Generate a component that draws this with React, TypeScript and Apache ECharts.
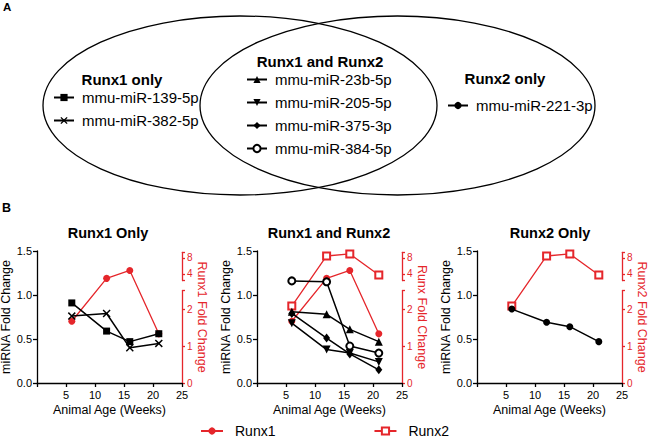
import React, { useEffect, useRef } from 'react';
import * as echarts from 'echarts';

// ---------- data ----------
const weeks = [6, 12, 16, 21];
const mir139 = [0.91, 0.59, 0.47, 0.56];
const mir382 = [0.76, 0.79, 0.40, 0.45];
const mir23b = [0.81, 0.78, 0.61, 0.47];
const mir205 = [0.68, 0.38, 0.34, 0.24];
const mir375 = [0.79, 0.51, 0.33, 0.15];
const mir384 = [1.16, 1.15, 0.42, 0.34];
const mir221 = [0.84, 0.69, 0.64, 0.47];
const runx1 = [1.67, 3.3, 4.65, 1.33];
const runx2 = [2.08, 8.7, 9.5, 3.83];

const xTicks = [5, 10, 15, 20, 25];
const yTicks = [0, 0.5, 1.0, 1.5];
const redLowTicks = [0, 1, 2];
const redHighTicks = [4, 8];

const vennLeft = ['mmu-miR-139-5p', 'mmu-miR-382-5p'];
const vennMid = ['mmu-miR-23b-5p', 'mmu-miR-205-5p', 'mmu-miR-375-3p', 'mmu-miR-384-5p'];
const vennRight = ['mmu-miR-221-3p'];

// ---------- style / layout ----------
const FONT = "'Liberation Sans', Arial, Helvetica, sans-serif";
const RED = '#e5262b';
const BLACK = '#000';
const PANEL_LEFT = [37, 257, 477];
const PW = 145;
const PT = 251;
const PH = 132;

// segmented right axis: lower linear segment, upper log2 segment
const LOW_MAX = 2.5;
const LOW_FRAC = 0.70;
const HIGH_MIN = 3;
const HIGH_MAX = 10.2;
const HIGH_FROM = 0.776;
const HIGH_TO = 0.99;
const lg = (v: number) => Math.log(v) / Math.LN2;
function toU(v: number) {
  if (v <= LOW_MAX) return (v / LOW_MAX) * LOW_FRAC;
  return HIGH_FROM + ((lg(v) - lg(HIGH_MIN)) / (lg(HIGH_MAX) - lg(HIGH_MIN))) * (HIGH_TO - HIGH_FROM);
}

const SYM_X = 'path://M0,1.3L1.3,0L5,3.7L8.7,0L10,1.3L6.3,5L10,8.7L8.7,10L5,6.3L1.3,10L0,8.7L3.7,5Z';
const SYM_TRI_DOWN = 'path://M0,0L10,0L5,9Z';

type Blk = { name: string; vals: number[]; symbol: string; size?: any };
type Rd = { name: string; vals: number[]; symbol: string };
const panels: { title: string; redName: string; black: Blk[]; red: Rd[] }[] = [
  {
    title: 'Runx1 Only',
    redName: 'Runx1 Fold Change',
    black: [
      { name: 'mmu-miR-139-5p', vals: mir139, symbol: 'rect' },
      { name: 'mmu-miR-382-5p', vals: mir382, symbol: SYM_X, size: 8 },
    ],
    red: [{ name: 'Runx1', vals: runx1, symbol: 'circle' }],
  },
  {
    title: 'Runx1 and Runx2',
    redName: 'Runx Fold Change',
    black: [
      { name: 'mmu-miR-23b-5p', vals: mir23b, symbol: 'triangle', size: 8 },
      { name: 'mmu-miR-205-5p', vals: mir205, symbol: SYM_TRI_DOWN, size: 8 },
      { name: 'mmu-miR-375-3p', vals: mir375, symbol: 'diamond', size: [7, 9] },
      { name: 'mmu-miR-384-5p', vals: mir384, symbol: 'emptyCircle' },
    ],
    red: [
      { name: 'Runx1', vals: runx1, symbol: 'circle' },
      { name: 'Runx2', vals: runx2, symbol: 'emptyRect' },
    ],
  },
  {
    title: 'Runx2 Only',
    redName: 'Runx2 Fold Change',
    black: [{ name: 'mmu-miR-221-3p', vals: mir221, symbol: 'circle' }],
    red: [{ name: 'Runx2', vals: runx2, symbol: 'emptyRect' }],
  },
];

function buildOption() {
  const grid: any[] = [];
  const xAxis: any[] = [];
  const yAxis: any[] = [];
  const series: any[] = [];
  const graphic: any[] = [];

  const axisLineBlack = { show: true, onZero: false, lineStyle: { color: BLACK, width: 1.3 } };
  const axisLineRed = { show: true, onZero: false, lineStyle: { color: RED, width: 1.3 } };

  panels.forEach((p, i) => {
    const L = PANEL_LEFT[i];
    const g0 = 3 * i;
    grid.push({ left: L, top: PT, width: PW, height: PH, outerBoundsMode: 'none' });
    grid.push({ left: L, top: PT + PH * (1 - LOW_FRAC), width: PW, height: PH * LOW_FRAC, outerBoundsMode: 'none' });
    grid.push({ left: L, top: PT + PH * (1 - HIGH_TO), width: PW, height: PH * (HIGH_TO - HIGH_FROM), outerBoundsMode: 'none' });

    xAxis.push({
      gridIndex: g0, type: 'value', min: 0, max: 25, interval: 5,
      axisLine: axisLineBlack,
      axisTick: { show: true, length: 4, customValues: [0, ...xTicks], lineStyle: { color: BLACK, width: 1.3 } },
      axisLabel: { customValues: xTicks, fontSize: 11, color: BLACK, fontFamily: FONT, margin: 6 },
      splitLine: { show: false },
      name: 'Animal Age (Weeks)', nameLocation: 'middle', nameGap: 20,
      nameTextStyle: { fontSize: 12.5, color: BLACK, fontFamily: FONT },
    });
    xAxis.push({ gridIndex: g0 + 1, type: 'value', min: 0, max: 1, show: false });
    xAxis.push({ gridIndex: g0 + 2, type: 'value', min: 0, max: 1, show: false });

    yAxis.push({
      gridIndex: g0, type: 'value', min: 0, max: 1.5, interval: 0.5, position: 'left',
      axisLine: axisLineBlack,
      axisTick: { show: true, length: 4, customValues: yTicks, lineStyle: { color: BLACK, width: 1.3 } },
      axisLabel: { customValues: yTicks, fontSize: 11, color: BLACK, fontFamily: FONT, margin: 5, formatter: (v: number) => v.toFixed(1) },
      splitLine: { show: false },
      name: 'miRNA Fold Change', nameLocation: 'middle', nameGap: 23,
      nameTextStyle: { fontSize: 12.5, color: BLACK, fontFamily: FONT },
    });
    yAxis.push({
      gridIndex: g0, type: 'value', min: 0, max: 1, position: 'right',
      axisLine: { show: false }, axisTick: { show: false }, axisLabel: { show: false }, splitLine: { show: false },
      name: p.redName, nameLocation: 'middle', nameRotate: -90, nameGap: 13,
      nameTextStyle: { fontSize: 12.5, color: RED, fontFamily: FONT },
    });
    yAxis.push({
      gridIndex: g0 + 1, type: 'value', min: 0, max: LOW_MAX, position: 'right',
      axisLine: axisLineRed,
      axisTick: { show: true, length: 3, customValues: [...redLowTicks, LOW_MAX], lineStyle: { color: RED, width: 1.3 } },
      axisLabel: { customValues: redLowTicks, fontSize: 10, color: RED, fontFamily: FONT, margin: 5 },
      splitLine: { show: false },
    });
    yAxis.push({
      gridIndex: g0 + 2, type: 'value', min: lg(HIGH_MIN), max: lg(HIGH_MAX), position: 'right',
      axisLine: axisLineRed,
      axisTick: { show: true, length: 3, customValues: [lg(HIGH_MIN), ...redHighTicks.map(lg), lg(HIGH_MAX)], lineStyle: { color: RED, width: 1.3 } },
      axisLabel: { customValues: redHighTicks.map(lg), fontSize: 10, color: RED, fontFamily: FONT, margin: 5, formatter: (v: number) => String(Math.round(Math.pow(2, v))) },
      splitLine: { show: false },
    });

    p.red.forEach((r) => {
      const empty = r.symbol.indexOf('empty') === 0;
      series.push({
        type: 'line', name: r.name, xAxisIndex: g0, yAxisIndex: 4 * i + 1,
        data: weeks.map((w, k) => [w, toU(r.vals[k])]),
        symbol: r.symbol, symbolSize: 7,
        lineStyle: { color: RED, width: 1.3 },
        itemStyle: empty ? { color: RED, borderColor: RED, borderWidth: 1.3 } : { color: RED },
        z: 2, silent: true,
      });
    });
    p.black.forEach((b) => {
      const empty = b.symbol.indexOf('empty') === 0;
      series.push({
        type: 'line', name: b.name, xAxisIndex: g0, yAxisIndex: 4 * i,
        data: weeks.map((w, k) => [w, b.vals[k]]),
        symbol: b.symbol, symbolSize: b.size || 7,
        lineStyle: { color: BLACK, width: 1.5 },
        itemStyle: empty ? { color: BLACK, borderColor: BLACK, borderWidth: 1.4 } : { color: BLACK },
        z: 3, silent: true,
      });
    });

    graphic.push({
      type: 'text', x: [108, 329, 550][i], y: 233,
      style: { text: p.title, fontSize: 14.5, fontWeight: 'bold', fontFamily: FONT, fill: BLACK, align: 'center', verticalAlign: 'middle' },
    });
  });

  // Venn diagram
  graphic.push({ type: 'ellipse', shape: { cx: 240, cy: 105.5, rx: 197, ry: 89.5 }, style: { fill: 'none', stroke: BLACK, lineWidth: 1.3 } });
  graphic.push({ type: 'ellipse', shape: { cx: 397.5, cy: 105.5, rx: 197.5, ry: 89.5 }, style: { fill: 'none', stroke: BLACK, lineWidth: 1.3 } });
  const head = (text: string, x: number, y: number, size = 15) => ({
    type: 'text', x, y,
    style: { text, fontSize: size, fontWeight: 'bold', fontFamily: FONT, fill: BLACK, align: 'center', verticalAlign: 'middle' },
  });
  graphic.push(head('Runx1 only', 122, 79));
  graphic.push(head('Runx1 and Runx2', 320, 61));
  graphic.push(head('Runx2 only', 505, 78));
  graphic.push({ type: 'text', x: 3, y: 1, style: { text: 'A', fontSize: 11.5, fontWeight: 'bold', fontFamily: FONT, fill: BLACK } });
  graphic.push({ type: 'text', x: 2, y: 201, style: { text: 'B', fontSize: 12.5, fontWeight: 'bold', fontFamily: FONT, fill: BLACK } });

  const vennLegend = (data: string[], left: number, top: number) => ({
    data, left, top, orient: 'vertical', padding: 0, itemGap: 8, itemWidth: 20, itemHeight: 9,
    selectedMode: false,
    textStyle: { fontSize: 15, color: BLACK, fontFamily: FONT, padding: [0, 0, 0, 3] },
  });

  return {
    animation: false,
    textStyle: { fontFamily: FONT },
    grid, xAxis, yAxis, series, graphic,
    legend: [
      vennLegend(vennLeft, 53, 90),
      vennLegend(vennMid, 246, 72),
      vennLegend(vennRight, 447, 98),
      {
        data: ['Runx1', 'Runx2'], left: 200, top: 424, orient: 'horizontal', padding: 0,
        itemGap: 98, itemWidth: 22, itemHeight: 9, selectedMode: false,
        textStyle: { fontSize: 14, color: BLACK, fontFamily: FONT, padding: [0, 0, 0, 7] },
      },
    ],
  };
}

export default function App() {
  const ref = useRef<HTMLDivElement>(null);
  useEffect(() => {
    if (!ref.current) return;
    const chart = echarts.init(ref.current, null, { renderer: 'svg' });
    chart.setOption(buildOption() as any);
    return () => chart.dispose();
  }, []);
  return <div ref={ref} style={{ position: 'absolute', left: 0, top: 0, width: 650, height: 438, background: '#fff' }} />;
}
